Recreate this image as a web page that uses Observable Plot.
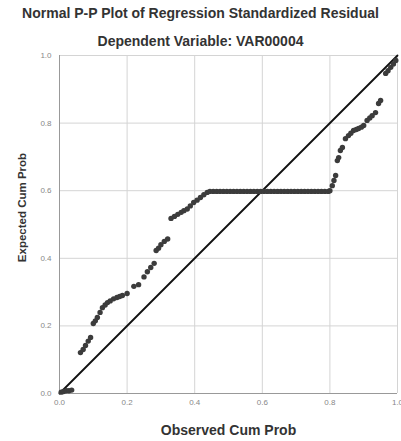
<!DOCTYPE html>
<html>
<head>
<meta charset="utf-8">
<script src="https://cdn.jsdelivr.net/npm/d3@7"></script>
<script src="https://cdn.jsdelivr.net/npm/@observablehq/plot@0.6"></script>
<style>
  html, body { margin: 0; padding: 0; background: #fff; }
  #wrap { width: 401px; height: 441px; position: relative; font-family: "Liberation Sans", Arial, sans-serif; }
  .t1 { position: absolute; top: 5px; left: 0; width: 401px; text-align: center; font-size: 14px; font-weight: bold; color: #333; }
  .t2 { position: absolute; top: 33px; left: 0; width: 401px; text-align: center; font-size: 14px; font-weight: bold; color: #333; }
  #chart { position: absolute; top: 50px; left: 0; }
</style>
</head>
<body>
<div id="wrap">
  <div class="t1" id="title"></div>
  <div class="t2" id="subtitle"></div>
  <div id="chart"></div>
</div>
<script>
const titleText = "Normal P-P Plot of Regression Standardized Residual";
const subtitleText = "Dependent Variable: VAR00004";
const xLabel = "Observed Cum Prob";
const yLabel = "Expected Cum Prob";
const tickValues = [0, 0.2, 0.4, 0.6, 0.8, 1.0];
const refLine = [0, 1];

// Observed cumulative probability (x)
const observed = [
  0.005, 0.012, 0.020, 0.028, 0.036,
  0.062, 0.070, 0.077, 0.085, 0.092, 0.100, 0.106, 0.112, 0.120, 0.127,
  0.135, 0.142, 0.150, 0.160, 0.170, 0.178, 0.186, 0.200, 0.220, 0.234,
  0.250, 0.260, 0.270, 0.280, 0.286, 0.293, 0.300, 0.310, 0.320,
  0.330, 0.340, 0.350, 0.360, 0.368, 0.378, 0.387, 0.397, 0.407, 0.417, 0.427, 0.437,
  0.445, 0.455, 0.465, 0.475, 0.485, 0.495, 0.505, 0.515, 0.525, 0.535,
  0.545, 0.555, 0.565, 0.575, 0.585, 0.595, 0.605, 0.615, 0.625, 0.635,
  0.645, 0.655, 0.665, 0.675, 0.685, 0.695, 0.705, 0.715, 0.725, 0.735,
  0.745, 0.755, 0.765, 0.775, 0.785, 0.795, 0.800,
  0.807, 0.812, 0.817, 0.822, 0.826, 0.831, 0.837, 0.846, 0.855, 0.862,
  0.870, 0.878, 0.885, 0.893, 0.900, 0.910, 0.918, 0.925, 0.935, 0.944,
  0.950, 0.965, 0.972, 0.980, 0.988, 0.995
];
// Expected cumulative probability (y)
const expected = [
  0.004, 0.006, 0.008, 0.008, 0.010,
  0.121, 0.130, 0.142, 0.155, 0.166, 0.207, 0.215, 0.225, 0.240, 0.254,
  0.262, 0.269, 0.274, 0.280, 0.284, 0.287, 0.290, 0.296, 0.317, 0.322,
  0.345, 0.360, 0.373, 0.385, 0.423, 0.430, 0.440, 0.450, 0.457,
  0.518, 0.524, 0.530, 0.536, 0.541, 0.546, 0.555, 0.565, 0.572, 0.580, 0.588, 0.595,
  0.598, 0.598, 0.598, 0.598, 0.598, 0.598, 0.598, 0.598, 0.598, 0.598,
  0.598, 0.598, 0.598, 0.598, 0.598, 0.598, 0.598, 0.598, 0.598, 0.598,
  0.598, 0.598, 0.598, 0.598, 0.598, 0.598, 0.598, 0.598, 0.598, 0.598,
  0.598, 0.598, 0.598, 0.598, 0.598, 0.598, 0.600,
  0.615, 0.630, 0.645, 0.689, 0.698, 0.719, 0.728, 0.754, 0.763, 0.770,
  0.778, 0.781, 0.784, 0.788, 0.793, 0.808, 0.815, 0.822, 0.831, 0.858,
  0.867, 0.947, 0.955, 0.965, 0.975, 0.985
];

document.getElementById("title").textContent = titleText;
document.getElementById("subtitle").textContent = subtitleText;

const points = observed.map((x, i) => ({x, y: expected[i]}));

const chart = Plot.plot({
  width: 401,
  height: 391,
  marginLeft: 59,
  marginRight: 4,
  marginTop: 5,
  marginBottom: 48,
  style: { fontFamily: "'Liberation Sans', Arial, sans-serif", background: "#fff" },
  x: { domain: [0, 1] },
  y: { domain: [0, 1] },
  marks: [
    Plot.gridX(tickValues, { stroke: "#d4d4d4", strokeOpacity: 1, strokeWidth: 1 }),
    Plot.gridY(tickValues, { stroke: "#d4d4d4", strokeOpacity: 1, strokeWidth: 1 }),
    Plot.ruleX([0], { stroke: "#999" }),
    Plot.ruleY([0], { stroke: "#999" }),
    Plot.axisX(tickValues, { tickSize: 0, tickPadding: 6, tickFormat: d3.format(".1f"), fontSize: 8, fill: "#888", label: null }),
    Plot.axisY(tickValues, { tickSize: 0, tickPadding: 8, tickFormat: d3.format(".1f"), fontSize: 8, fill: "#888", label: null }),
    Plot.line(refLine.map(v => ({x: v, y: v})), { x: "x", y: "y", stroke: "#111", strokeWidth: 1.8 }),
    Plot.dot(points, { x: "x", y: "y", r: 2.7, fill: "#3c3c3c", stroke: "none" }),
    Plot.text([xLabel], { frameAnchor: "bottom", dy: 41, fontSize: 14, fontWeight: "bold", fill: "#333" }),
    Plot.text([yLabel], { frameAnchor: "left", textAnchor: "middle", dx: -37, dy: -17, rotate: -90, fontSize: 11.5, fontWeight: "bold", fill: "#333" })
  ]
});
document.getElementById("chart").appendChild(chart);
</script>
</body>
</html>
